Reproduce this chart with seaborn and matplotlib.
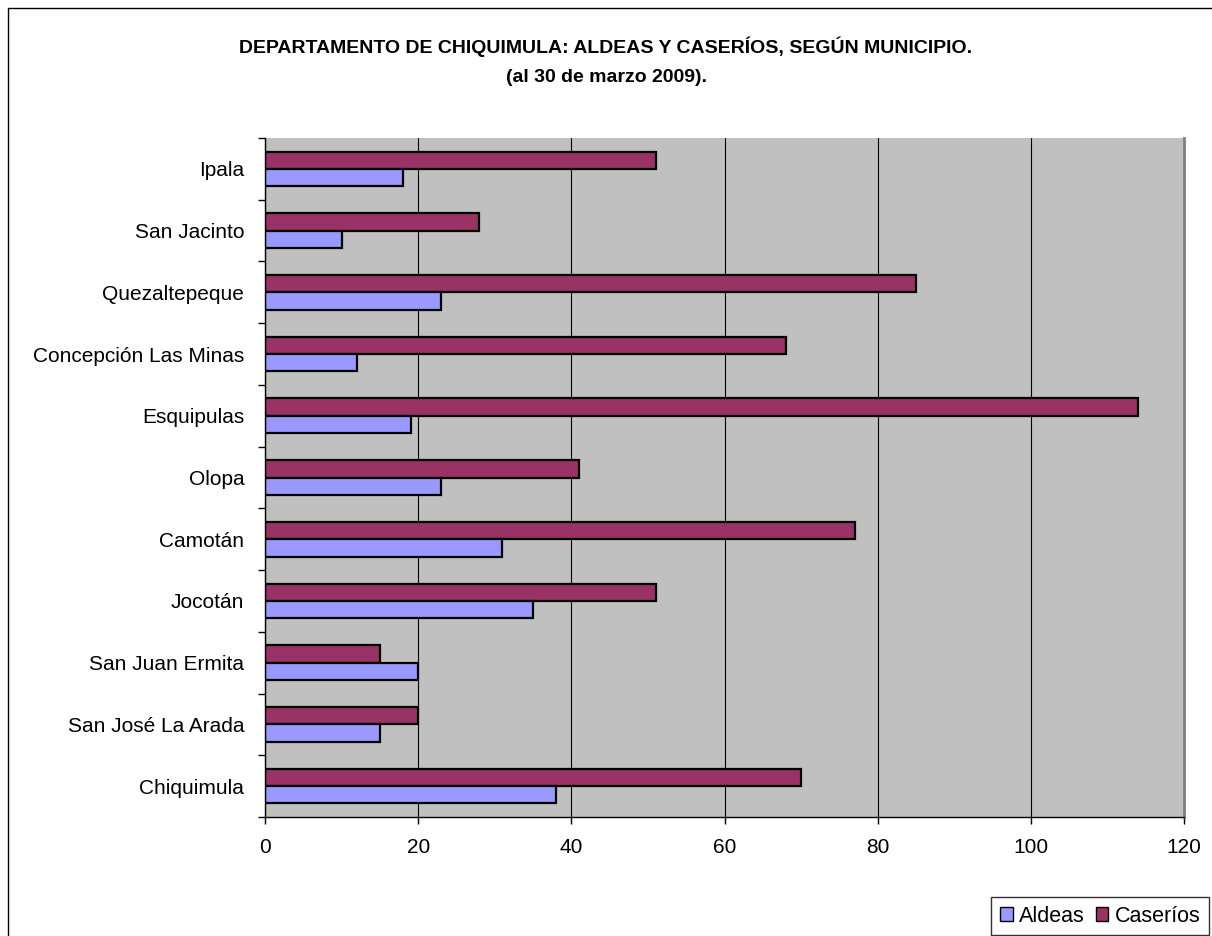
import numpy as np
import pandas as pd
import matplotlib
matplotlib.use("Agg")
import matplotlib.pyplot as plt
import matplotlib.patches as mpatches
import seaborn as sns

# data (top to bottom)
municipios = ["Ipala", "San Jacinto", "Quezaltepeque", "Concepción Las Minas",
              "Esquipulas", "Olopa", "Camotán", "Jocotán", "San Juan Ermita",
              "San José La Arada", "Chiquimula"]
aldeas = [18, 10, 23, 12, 19, 23, 31, 35, 20, 15, 38]
caserios = [51, 28, 85, 68, 114, 41, 77, 51, 15, 20, 70]
x_ticks = [0, 20, 40, 60, 80, 100, 120]

df = pd.DataFrame({"Municipio": municipios * 2,
                   "Serie": ["Caseríos"] * len(municipios) + ["Aldeas"] * len(municipios),
                   "Valor": caserios + aldeas})

sns.set_theme(style="white")
plt.rcParams['font.family'] = ['Liberation Sans', 'DejaVu Sans']
plt.rcParams['text.color'] = 'black'
plt.rcParams['xtick.color'] = 'black'
plt.rcParams['ytick.color'] = 'black'

colors = {"Aldeas": "#9999FF", "Caseríos": "#993366"}

fig = plt.figure(figsize=(12.12, 9.36), dpi=100)
ax = fig.add_axes([265 / 1212, 1 - 817 / 936, (1184 - 265) / 1212, (817 - 138) / 936])
ax.set_facecolor("#C0C0C0")

sns.barplot(data=df, y="Municipio", x="Valor", hue="Serie",
            hue_order=["Caseríos", "Aldeas"], order=municipios,
            palette=colors, orient="h", width=0.56, ax=ax,
            edgecolor="black", linewidth=1.6, saturation=1, legend=False)

ax.set_xlim(0, 120)
ax.set_ylim(len(municipios) - 0.5, -0.5)
ax.set_xticks(x_ticks)
ax.set_xticklabels([str(t) for t in x_ticks], fontsize=15)
ax.xaxis.grid(True, color="black", linewidth=0.8)
ax.set_axisbelow(True)
ax.set_xlabel("")
ax.set_ylabel("")

ax.set_yticks(range(len(municipios)))
ax.set_yticklabels(municipios, fontsize=15)
ax.set_yticks(np.arange(-0.5, len(municipios), 1), minor=True)
ax.tick_params(axis="y", which="major", length=0, pad=15)
ax.tick_params(axis="y", which="minor", length=5, width=1, color="black", direction="out", left=True)
ax.tick_params(axis="x", length=5, width=1, color="black", direction="out", bottom=True, pad=10)

for s in ["left", "bottom"]:
    ax.spines[s].set_color("black")
    ax.spines[s].set_linewidth(1)
ax.spines["top"].set_visible(False)
ax.spines["right"].set_color("#808080")
ax.spines["right"].set_linewidth(2)

fig.text(0.5, 1 - 47 / 936, "DEPARTAMENTO DE CHIQUIMULA: ALDEAS Y CASERÍOS, SEGÚN MUNICIPIO.",
         ha="center", va="center", fontsize=14, fontweight="bold")
fig.text(0.5, 1 - 77 / 936, "(al 30 de marzo 2009).",
         ha="center", va="center", fontsize=14, fontweight="bold")

handles = [mpatches.Patch(facecolor=colors[k], edgecolor="black", linewidth=1, label=k)
           for k in ["Aldeas", "Caseríos"]]
leg = fig.legend(handles=handles, loc="upper left", bbox_to_anchor=(991 / 1212, 1 - 897 / 936),
                 ncol=2, fontsize=15.5, frameon=True, fancybox=False, handlelength=0.6,
                 handleheight=0.6, handletextpad=0.3, columnspacing=0.5, borderpad=0.4,
                 borderaxespad=0)
leg.get_frame().set_edgecolor("black")
leg.get_frame().set_linewidth(1)

fig.patches.append(mpatches.Rectangle((8 / 1212, -0.1), 1.2, (936 - 8) / 936 + 0.1,
                                      transform=fig.transFigure, fill=False,
                                      edgecolor="black", linewidth=1))

fig.savefig("out.png", dpi=100, facecolor="white")
